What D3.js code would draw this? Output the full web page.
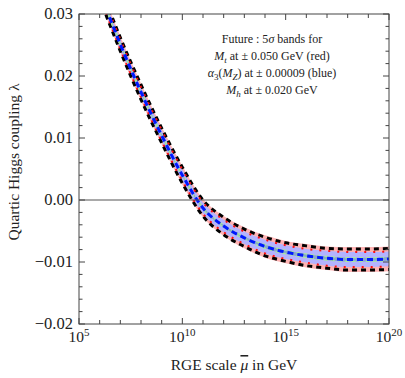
<!DOCTYPE html>
<html><head><meta charset="utf-8">
<script src="https://cdn.jsdelivr.net/npm/d3@7"></script>
<style>body{margin:0;background:#fff}svg{display:block}</style>
</head><body><svg id="c" width="405" height="378" font-family="Liberation Serif, Times New Roman, serif"></svg>
<script>
// log10(mu/GeV)
const logMu   = [6.3, 7, 8, 9, 10, 11, 12, 13, 14, 15, 16, 17, 18, 19, 20];
// central lambda
const lambda  = [0.0310, 0.0251, 0.0174, 0.0104, 0.0040, -0.0013, -0.0042, -0.0061, -0.0075, -0.0084, -0.0090, -0.0094, -0.0096, -0.0096, -0.0095];
// half widths of the bands
const redHalf   = [0.0013,0.0013,0.0014,0.0014,0.0015,0.0015,0.0016,0.0017,0.0018,0.0018,0.0019,0.0019,0.0020,0.0020,0.0020];
const blackHalf = [0.0011,0.0011,0.0012,0.0012,0.0013,0.0013,0.0014,0.0014,0.0015,0.0015,0.0016,0.0016,0.0017,0.0017,0.0017];
const blueHalf  = [0.0008,0.0008,0.0008,0.0009,0.0009,0.0009,0.0010,0.0010,0.0011,0.0011,0.0011,0.0012,0.0012,0.0012,0.0012];
const greenHalf = [0.0002,0.0002,0.0002,0.0002,0.0002,0.0002,0.0002,0.0002,0.0003,0.0003,0.0003,0.0003,0.0003,0.0003,0.0003];
const yTicks = [-0.02,-0.01,0.00,0.01,0.02,0.03];
const yTickLabels = ["\u22120.02","\u22120.01","0.00","0.01","0.02","0.03"];
const xTicks = [5,10,15,20];

const svg = d3.select("#c");
const L=79,R=389,T=14,B=324;
const x = d3.scaleLinear().domain([5,20]).range([L,R]);
const y = d3.scaleLinear().domain([-0.02,0.03]).range([B,T]);
const data = logMu.map((m,i)=>({m,v:lambda[i],r:redHalf[i],k:blackHalf[i],b:blueHalf[i],g:greenHalf[i]}));

svg.append("defs").append("clipPath").attr("id","clip").append("rect")
  .attr("x",L).attr("y",T).attr("width",R-L).attr("height",B-T);
const g = svg.append("g").attr("clip-path","url(#clip)");
const cv = d3.curveMonotoneX;
const area = (w)=>d3.area().curve(cv).x(d=>x(d.m)).y0(d=>y(d.v-w(d))).y1(d=>y(d.v+w(d)));
const line = (f)=>d3.line().curve(cv).x(d=>x(d.m)).y(d=>y(f(d)));

g.append("path").datum(data).attr("d",area(d=>d.r)).attr("fill","#ffb3b3");
g.append("path").datum(data).attr("d",area(d=>d.b)).attr("fill","#b3b3ff");
g.append("path").datum(data).attr("d",area(d=>d.g)).attr("fill","#88a8c8");
svg.append("line").attr("x1",L).attr("x2",R).attr("y1",y(0)).attr("y2",y(0)).attr("stroke","#555").attr("stroke-width",1.2);
[1,-1].forEach(s=>{
  g.append("path").datum(data).attr("d",line(d=>d.v+s*d.k)).attr("fill","none")
    .attr("stroke","#000").attr("stroke-width",3).attr("stroke-dasharray","5,4");
  g.append("path").datum(data).attr("d",line(d=>d.v+s*d.b)).attr("fill","none")
    .attr("stroke","#ff1010").attr("stroke-width",2).attr("stroke-dasharray","2,7");
  g.append("path").datum(data).attr("d",line(d=>d.v+s*d.g)).attr("fill","none")
    .attr("stroke","#a8e8a0").attr("stroke-width",1.2).attr("stroke-dasharray","4,3");
});
g.append("path").datum(data).attr("d",line(d=>d.v)).attr("fill","none")
  .attr("stroke","#0018ff").attr("stroke-width",3).attr("stroke-dasharray","6,4");

// frame
const ax = svg.append("g").attr("stroke","#444").attr("stroke-width",1);
ax.append("rect").attr("x",L).attr("y",T).attr("width",R-L).attr("height",B-T).attr("fill","none");
d3.range(5,21).forEach(m=>{
  const len = (m%5===0)?6:4;
  ax.append("line").attr("x1",x(m)).attr("x2",x(m)).attr("y1",B).attr("y2",B-len);
  ax.append("line").attr("x1",x(m)).attr("x2",x(m)).attr("y1",T).attr("y2",T+len);
});
d3.range(-10,16).forEach(k=>{
  const v=k*0.002, len=(k%5===0)?6:3.5;
  ax.append("line").attr("x1",L).attr("x2",L+len).attr("y1",y(v)).attr("y2",y(v));
  ax.append("line").attr("x1",R).attr("x2",R-len).attr("y1",y(v)).attr("y2",y(v));
});
const txt = svg.append("g").attr("fill","#222");
yTicks.forEach((v,i)=>{
  txt.append("text").attr("x",L-6).attr("y",y(v)+5).attr("text-anchor","end")
    .attr("font-size",16.5).text(yTickLabels[i]);
});
xTicks.forEach(m=>{
  const t=txt.append("text").attr("x",x(m)).attr("y",342).attr("text-anchor","middle").attr("font-size",15.5);
  t.append("tspan").text("10");
  t.append("tspan").attr("font-size",11).attr("dy",-6).text(String(m));
});
const xt = txt.append("text").attr("x",234).attr("y",370).attr("text-anchor","middle").attr("font-size",15.5);
xt.append("tspan").text("RGE scale ");
xt.append("tspan").attr("font-style","italic").attr("text-decoration","overline").text("\u03bc");
xt.append("tspan").text(" in GeV");
txt.append("text").attr("transform","translate(19,162) rotate(-90)").attr("text-anchor","middle")
  .attr("font-size",15.5).text("Quartic Higgs coupling \u03bb");

// annotation
const cx=272, ly=[43,60,77,94];
const t1 = txt.append("text").attr("x",cx).attr("y",ly[0]).attr("text-anchor","middle").attr("font-size",12);
t1.append("tspan").text("Future : 5");
t1.append("tspan").attr("font-style","italic").text("\u03c3");
t1.append("tspan").text(" bands for");
const t2 = txt.append("text").attr("x",cx).attr("y",ly[1]).attr("text-anchor","middle").attr("font-size",12);
t2.append("tspan").attr("font-style","italic").text("M");
t2.append("tspan").attr("font-style","italic").attr("font-size",9).attr("dy",3).text("t");
t2.append("tspan").attr("dy",-3).text(" at \u00b1 0.050 GeV (red)");
const t3 = txt.append("text").attr("x",cx).attr("y",ly[2]).attr("text-anchor","middle").attr("font-size",12);
t3.append("tspan").attr("font-style","italic").text("\u03b1");
t3.append("tspan").attr("font-size",9).attr("dy",3).text("3");
t3.append("tspan").attr("dy",-3).text("(");
t3.append("tspan").attr("font-style","italic").text("M");
t3.append("tspan").attr("font-style","italic").attr("font-size",9).attr("dy",3).text("Z");
t3.append("tspan").attr("dy",-3).text(") at \u00b1 0.00009 (blue)");
const t4 = txt.append("text").attr("x",cx).attr("y",ly[3]).attr("text-anchor","middle").attr("font-size",12);
t4.append("tspan").attr("font-style","italic").text("M");
t4.append("tspan").attr("font-style","italic").attr("font-size",9).attr("dy",3).text("h");
t4.append("tspan").attr("dy",-3).text(" at \u00b1 0.020 GeV");
</script></body></html>
